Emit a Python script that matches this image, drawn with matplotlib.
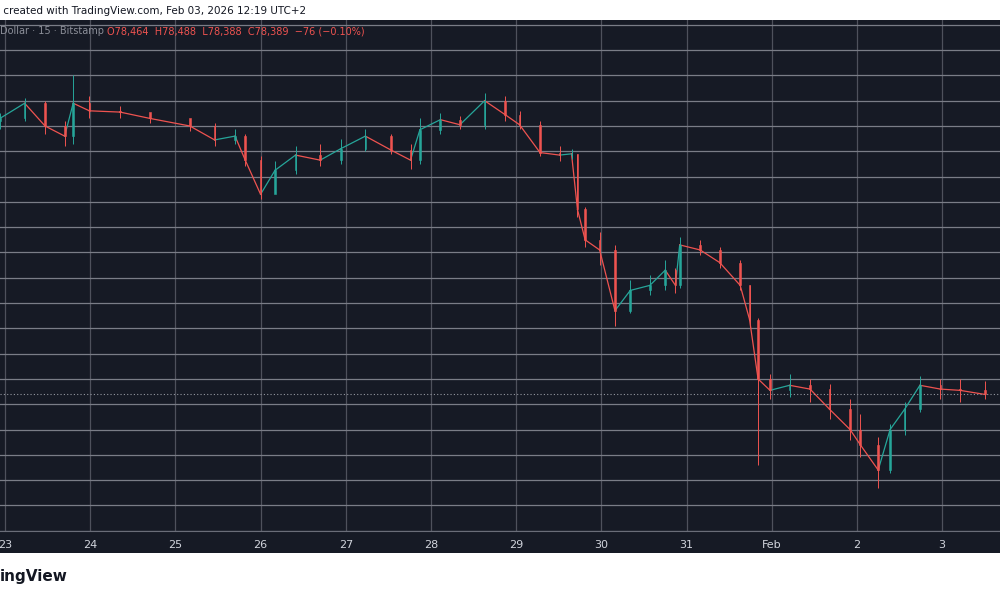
import matplotlib
matplotlib.use("Agg")
import matplotlib.pyplot as plt
from matplotlib.patches import Rectangle
import numpy as np

# time in days (Jan day number; 32 = Feb 1)
times = [22.94, 23.23, 23.47, 23.70, 23.80, 23.99, 24.35, 24.70, 25.17, 25.46, 25.70, 25.82,
         26.00, 26.17, 26.41, 26.70, 26.94, 27.23, 27.53, 27.76, 27.87, 28.11, 28.34, 28.63,
         28.87, 29.04, 29.28, 29.51, 29.65, 29.72, 29.81, 29.98, 30.16, 30.34, 30.57, 30.75,
         30.87, 30.92, 31.16, 31.39, 31.63, 31.74, 31.84, 31.98, 32.21, 32.45, 32.68, 32.92,
         33.04, 33.25, 33.39, 33.56, 33.74, 33.98, 34.21, 34.50]
close = [89.30, 89.90, 89.00, 88.60, 89.90, 89.60, 89.55, 89.30, 89.00, 88.45, 88.60, 87.65,
         86.30, 87.25, 87.85, 87.65, 88.10, 88.60, 88.05, 87.65, 88.85, 89.25, 89.05, 90.00,
         89.45, 89.05, 87.95, 87.85, 87.90, 85.70, 84.50, 84.10, 81.70, 82.50, 82.70, 83.30,
         82.70, 84.30, 84.10, 83.60, 82.70, 81.35, 79.00, 78.55, 78.75, 78.60, 77.80, 77.00,
         76.40, 75.40, 77.00, 77.80, 78.75, 78.60, 78.55, 78.39]
high = [89.5, 90.1, 90.0, 89.2, 91.0, 90.2, 89.8, 89.5, 89.2, 89.1, 88.9, 88.7,
        87.8, 87.6, 88.2, 88.3, 88.5, 88.9, 88.7, 88.3, 89.3, 89.5, 89.4, 90.3,
        90.2, 89.6, 89.2, 88.2, 88.1, 87.9, 85.8, 84.8, 84.3, 82.9, 83.1, 83.7,
        83.4, 84.6, 84.5, 84.2, 83.7, 82.7, 81.4, 79.2, 79.2, 79.0, 78.8, 78.2,
        77.6, 76.7, 77.2, 78.1, 79.1, 79.0, 79.0, 78.9]
low = [88.9, 89.2, 88.7, 88.2, 88.3, 89.3, 89.3, 89.1, 88.8, 88.2, 88.3, 87.4,
       86.1, 86.4, 87.1, 87.4, 87.5, 88.0, 87.9, 87.3, 87.5, 88.7, 88.9, 88.9,
       89.2, 88.9, 87.8, 87.6, 87.7, 85.4, 84.2, 83.5, 81.1, 81.6, 82.3, 82.5,
       82.4, 82.6, 83.9, 83.4, 82.5, 81.0, 75.6, 78.2, 78.3, 78.1, 77.4, 76.6,
       75.9, 74.7, 75.3, 76.8, 77.7, 78.2, 78.1, 78.2]
day_ticks = [23, 24, 25, 26, 27, 28, 29, 30, 31, 32, 33, 34]
day_labels = ["23", "24", "25", "26", "27", "28", "29", "30", "31", "Feb", "2", "3"]
last_price = 78.389

BG = "#161a25"
UP = "#26a69a"
DN = "#ef5350"

fig = plt.figure(figsize=(10, 6), dpi=100)
fig.patch.set_facecolor("white")
bg = fig.add_axes([0, 1 - 553 / 600, 1, 533 / 600], zorder=-5)
bg.set_facecolor(BG)
bg.set_xticks([]); bg.set_yticks([])
for s in bg.spines.values():
    s.set_visible(False)

ax = fig.add_axes([0, 1 - 531 / 600, 1, 511 / 600])
ax.set_facecolor(BG)
ax.set_xlim(22.941, 34.68)
ax.set_ylim(72.99, 93.19)
for s in ax.spines.values():
    s.set_visible(False)
ax.spines["bottom"].set_visible(True)
ax.spines["bottom"].set_color("#6a6d78")
ax.set_yticks(np.arange(73, 94, 1))
ax.set_xticks(day_ticks)
ax.grid(True, axis="y", color="#7a7d87", lw=0.9)
ax.grid(True, axis="x", color="#4e515c", lw=0.9)
ax.tick_params(length=0, labelleft=False, labelbottom=False)

prev = close[0] - 0.1
for i, t in enumerate(times):
    o = prev
    c = close[i]
    col = UP if c >= o else DN
    w = 0.02
    ax.vlines(t, low[i], high[i], color=col, lw=0.7, zorder=3)
    ax.add_patch(Rectangle((t - w / 2, min(o, c)), w, max(abs(c - o), 0.03),
                           facecolor=col, edgecolor=col, lw=0.4, zorder=4))
    if i > 0:
        ax.plot([times[i - 1], t], [o, c], color=col, lw=0.9, zorder=2)
    prev = c

ax.axhline(last_price, color="#9598a1", ls=(0, (1, 2)), lw=0.8)

for d, lab in zip(day_ticks, day_labels):
    ax.text(d, -0.027, lab, transform=ax.get_xaxis_transform(), ha="center", va="center",
            color="#d1d4dc", fontsize=8, clip_on=False)

fig.text(0.0, 1 - 11 / 600, " created with TradingView.com, Feb 03, 2026 12:19 UTC+2",
         fontsize=7.5, color="#131722", va="center")
fig.text(0.0, 1 - 31 / 600, "Dollar · 15 · Bitstamp", fontsize=7, color="#8c8f99", va="center")
fig.text(0.107, 1 - 31 / 600, "O78,464  H78,488  L78,388  C78,389  −76 (−0.10%)",
         fontsize=7, color=DN, va="center")
fig.text(0.0, 1 - 577 / 600, "ingView", fontsize=11, fontweight="bold", color="#131722", va="center")

fig.savefig("out.png", dpi=100, facecolor=fig.get_facecolor())
